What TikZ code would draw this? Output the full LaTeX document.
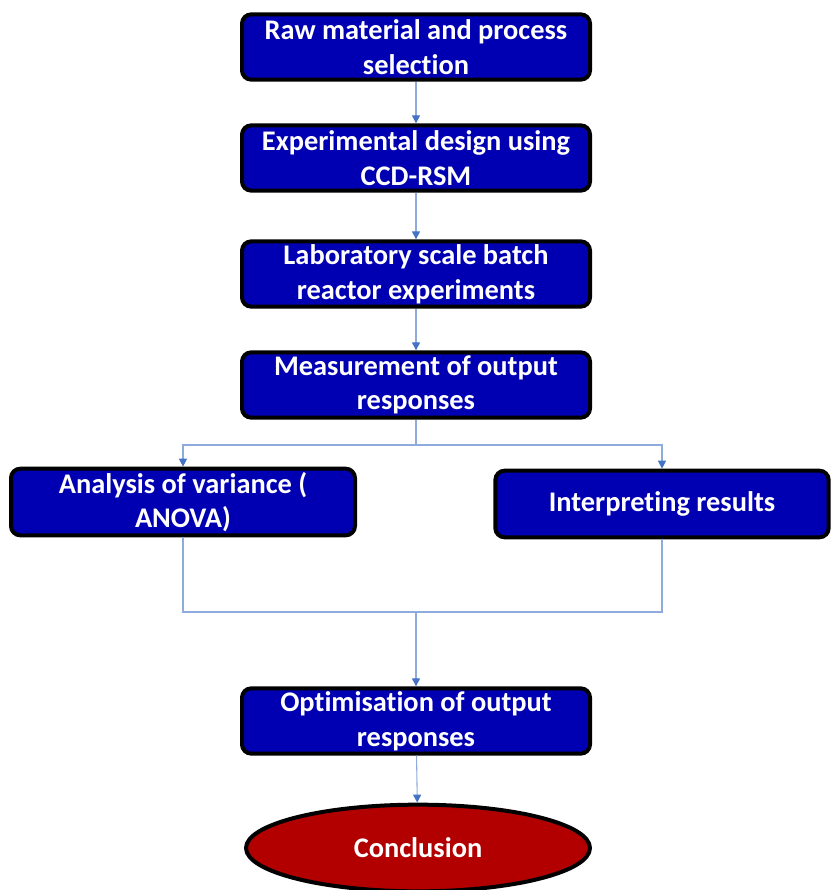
\documentclass[tikz,border=0pt]{standalone}
\usepackage{fontspec}
\setmainfont[Ligatures=CommonOff]{Carlito}
\usetikzlibrary{shapes.geometric,arrows.meta}
\definecolor{boxblue}{RGB}{0,0,178}
\definecolor{endred}{RGB}{178,0,0}
\definecolor{linkblue}{RGB}{143,170,220}
\definecolor{tipblue}{RGB}{68,114,196}

\begin{document}
\begin{tikzpicture}[x=0.75pt,y=-0.75pt,
    box/.style={draw=black,line width=3pt,rounded corners=7pt,fill=boxblue,text=white,
      font=\bfseries\fontsize{21.3}{26}\selectfont,align=center,inner sep=2pt,
      minimum width=261pt,minimum height=49pt},
    stop/.style={draw=black,line width=3pt,ellipse,fill=endred,text=white,
      font=\bfseries\fontsize{21.3}{26}\selectfont,minimum width=258pt,minimum height=65pt},
    link/.style={draw=linkblue,line width=0.8pt},
    arrow/.style={link,-{Triangle[length=6pt,width=6pt,color=tipblue]}}]
  \useasboundingbox (0,0) rectangle (831,890);

  \node[box] (raw) at (416,47) {Raw material and process\\selection};
  \node[box] (ccd) at (416,158) {Experimental design using\\CCD-RSM};
  \node[box] (lab) at (416,274) {Laboratory scale batch\\reactor experiments};
  \node[box] (meas) at (416,385) {Measurement of output\\responses};
  \node[box,minimum width=258pt,minimum height=50pt] (anova) at (183,502) {Analysis of variance (\\ANOVA)};
  \node[box,minimum width=250pt,minimum height=50pt] (interp) at (662,504) {Interpreting results};
  \node[box] (opt) at (416,721) {Optimisation of output\\responses};
  \node[stop] (concl) at (418,848) {Conclusion};

  \coordinate (split) at (416,445);
  \coordinate (join) at (416,612);

  \draw[arrow] (raw) -- (ccd);
  \draw[arrow] (ccd) -- (lab);
  \draw[arrow] (lab) -- (meas);
  \draw[link] (meas) -- (split);
  \draw[arrow] (split) -| (anova);
  \draw[arrow] (split) -| (interp);
  \draw[link] (anova) |- (join);
  \draw[link] (interp) |- (join);
  \draw[arrow] (join) -- (opt);
  \draw[arrow] (opt) -- (concl);

\end{tikzpicture}
\end{document}
